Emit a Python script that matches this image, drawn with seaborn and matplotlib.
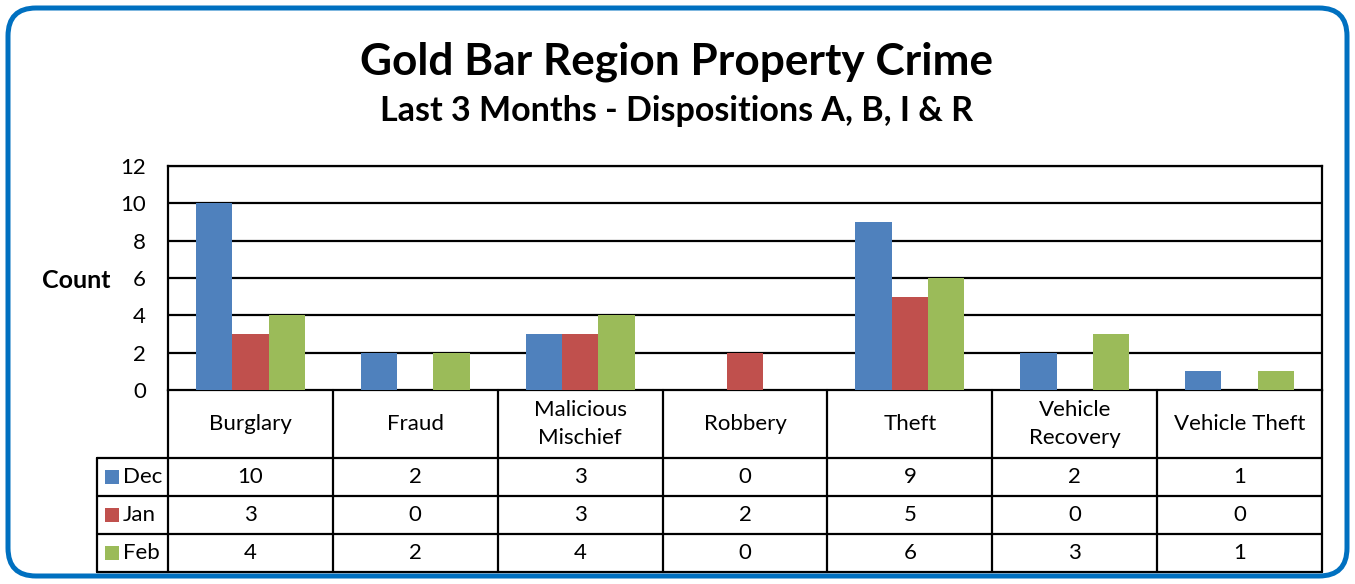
import pandas as pd
import matplotlib.pyplot as plt
import seaborn as sns
from matplotlib.patches import FancyBboxPatch, Rectangle

# Data
categories = ['Burglary', 'Fraud', 'Malicious Mischief', 'Robbery', 'Theft',
              'Vehicle Recovery', 'Vehicle Theft']
cat_labels = ['Burglary', 'Fraud', 'Malicious\nMischief', 'Robbery', 'Theft',
              'Vehicle\nRecovery', 'Vehicle Theft']
months = ['Dec', 'Jan', 'Feb']
dec = [10, 2, 3, 0, 9, 2, 1]
jan = [3, 0, 3, 2, 5, 0, 0]
feb = [4, 2, 4, 0, 6, 3, 1]
colors = ['#4F81BD', '#C0504D', '#9BBB59']

series = {'Dec': dec, 'Jan': jan, 'Feb': feb}
df = pd.DataFrame([
    {'Category': c, 'Month': m, 'Count': series[m][i]}
    for m in months for i, c in enumerate(categories)
])

sns.set_style('white')
plt.rcParams['font.family'] = ['Lato', 'DejaVu Sans']
plt.rcParams['text.color'] = 'black'
plt.rcParams['ytick.color'] = 'black'

W, H = 1355, 584
fig = plt.figure(figsize=(W / 100, H / 100), dpi=100)

# overlay axes in pixel coordinates for frame, titles, table
ov = fig.add_axes([0, 0, 1, 1])
ov.set_xlim(0, W)
ov.set_ylim(H, 0)
ov.axis('off')

ov.add_patch(FancyBboxPatch((8, 8), W - 16, H - 16,
                            boxstyle='round,pad=0,rounding_size=28',
                            fc='white', ec='#0070C0', lw=3.6))

ov.text(677, 62, 'Gold Bar Region Property Crime', ha='center', va='center',
        fontsize=31.8, fontweight='bold')
ov.text(677, 111, 'Last 3 Months - Dispositions A, B, I & R', ha='center',
        va='center', fontsize=24.5, fontweight='bold')
ov.text(76, 280, 'Count', ha='center', va='center', fontsize=18,
        fontweight='bold')

# plot area
x0, x1 = 168, 1322
y_top, y_bot = 166, 390
ax = fig.add_axes([x0 / W, (H - y_bot) / H, (x1 - x0) / W, (y_bot - y_top) / H])
ax.patch.set_alpha(0)

sns.barplot(data=df, x='Category', y='Count', hue='Month', order=categories,
            hue_order=months, palette=colors, width=0.66, gap=0,
            saturation=1, legend=False, linewidth=0, ax=ax, zorder=3)

ax.set_ylim(0, 12)
ax.set_xlim(-0.5, len(categories) - 0.5)
ax.set_yticks(range(0, 13, 2))
ax.set_xticks([])
ax.set_xlabel('')
ax.set_ylabel('')
ax.tick_params(axis='y', length=0, pad=16, labelsize=16)
for v in range(2, 13, 2):
    ax.axhline(v, color='black', lw=1.6, zorder=1)
for s in ax.spines.values():
    s.set_visible(True)
    s.set_color('black')
    s.set_linewidth(1.6)

# data table
n = len(categories)
cw = (x1 - x0) / n
rows = [390, 458, 496, 534, 572]
lx = 97
lw = 1.6
for i in range(n + 1):
    ov.plot([x0 + i * cw] * 2, [rows[0], rows[-1]], color='black', lw=lw)
ov.plot([lx, lx], [rows[1], rows[-1]], color='black', lw=lw)
for r in rows[1:]:
    ov.plot([lx, x1], [r, r], color='black', lw=lw)

for i, lab in enumerate(cat_labels):
    ov.text(x0 + (i + 0.5) * cw, (rows[0] + rows[1]) / 2, lab, ha='center',
            va='center', fontsize=16, linespacing=1.45)

for j, m in enumerate(months):
    yc = (rows[j + 1] + rows[j + 2]) / 2
    ov.add_patch(Rectangle((105, yc - 7), 14, 14, fc=colors[j], ec='none'))
    ov.text(123, yc, m, ha='left', va='center', fontsize=16)
    for i, v in enumerate(series[m]):
        ov.text(x0 + (i + 0.5) * cw, yc, str(v), ha='center', va='center',
                fontsize=16)

fig.savefig('out.png', dpi=100)
